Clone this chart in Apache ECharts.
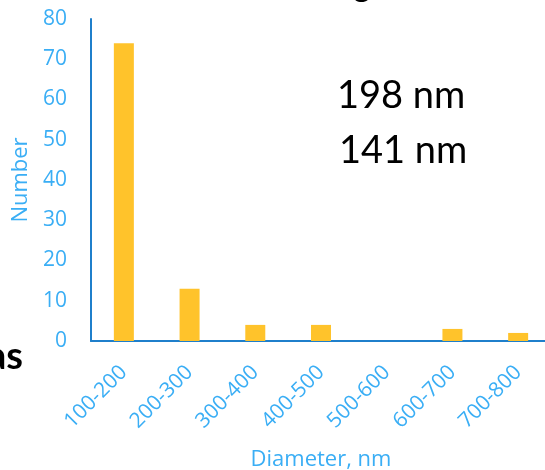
<!DOCTYPE html>
<html>
<head>
<meta charset="utf-8">
<script src="https://cdn.jsdelivr.net/npm/echarts@6/dist/echarts.min.js"></script>
<style>html,body{margin:0;padding:0;background:#fff}#c{width:545px;height:470px}</style>
</head>
<body>
<div id="c"></div>
<script>
var categories = ['100-200','200-300','300-400','400-500','500-600','600-700','700-800'];
var counts = [74, 13, 4, 4, 0, 3, 2];
var yTicks = [0, 10, 20, 30, 40, 50, 60, 70, 80];
var notes = ['198 nm', '141 nm'];

var labelBlue = '#3aaef5';
var axisBlue = '#1f7fcb';
var font = 'Open Sans';

var chart = echarts.init(document.getElementById('c'));
chart.setOption({
  animation: false,
  grid: { left: 91, top: 19, bottom: 129, right: -6, containLabel: false, outerBoundsMode: 'none' },
  xAxis: {
    type: 'category',
    data: categories,
    name: 'Diameter, nm',
    nameLocation: 'middle',
    nameGap: 108,
    nameTextStyle: { color: labelBlue, fontSize: 22, fontFamily: font },
    axisLine: { lineStyle: { color: axisBlue, width: 2 } },
    axisTick: { show: false },
    axisLabel: { rotate: 45, color: labelBlue, fontSize: 21, fontFamily: font, margin: 28, interval: 0 }
  },
  yAxis: {
    type: 'value',
    min: yTicks[0], max: yTicks[yTicks.length - 1], interval: 10,
    name: 'Number',
    nameLocation: 'middle',
    nameGap: 56,
    nameTextStyle: { color: labelBlue, fontSize: 22, fontFamily: font },
    axisLine: { show: true, lineStyle: { color: axisBlue, width: 2 } },
    axisTick: { show: false },
    splitLine: { show: false },
    axisLabel: { color: labelBlue, fontSize: 21, fontFamily: font, margin: 24 }
  },
  series: [{
    type: 'bar',
    data: counts,
    barWidth: 20,
    itemStyle: { color: '#ffc32b' }
  }],
  graphic: [
    { type: 'text', left: 337, top: 77, style: { text: notes[0], fontSize: 38, fontFamily: 'Lato', fill: '#000' } },
    { type: 'text', left: 339, top: 132, style: { text: notes[1], fontSize: 38, fontFamily: 'Lato', fill: '#000' } },
    { type: 'text', x: 23, y: 376, style: { text: 'as', fontSize: 38, fontWeight: 'bold', fontFamily: 'Lato', fill: '#000', align: 'right', verticalAlign: 'bottom' } },
    { type: 'text', x: 362, y: 3, style: { text: 'g', fontSize: 32, fontWeight: 'bold', fontFamily: 'Lato', fill: '#000', align: 'center', verticalAlign: 'bottom' } }
  ]
});
</script>
</body>
</html>
